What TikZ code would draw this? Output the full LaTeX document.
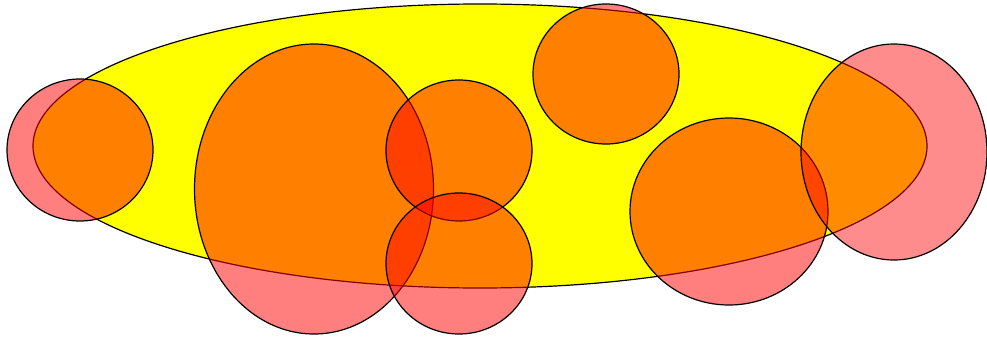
\documentclass[tikz,border=0pt]{standalone}
\definecolor{blobyellow}{RGB}{255,255,0}
\definecolor{discred}{RGB}{255,0,0}
\begin{document}
\begin{tikzpicture}[x=1pt,y=-1pt,
  blob/.style={draw=black,line width=1.2pt,fill=blobyellow},
  disc/.style={draw=black,line width=1.2pt,fill=discred,fill opacity=0.5}]
\useasboundingbox (0,0) rectangle (987,337);
\draw[blob] (480,146) ellipse [x radius=447, y radius=142];
\draw[disc] (80,150) ellipse [x radius=73, y radius=71];
\draw[disc] (314,189) ellipse [x radius=119.5, y radius=145];
\draw[disc] (459,150.5) ellipse [x radius=73, y radius=70.5];
\draw[disc] (459,263.5) ellipse [x radius=73, y radius=70.5];
\draw[disc] (606,74) ellipse [x radius=73, y radius=70];
\draw[disc] (729,211.5) ellipse [x radius=99, y radius=93.5];
\draw[disc,fill opacity=0.45] (894,152) ellipse [x radius=93, y radius=108];
\end{tikzpicture}
\end{document}
